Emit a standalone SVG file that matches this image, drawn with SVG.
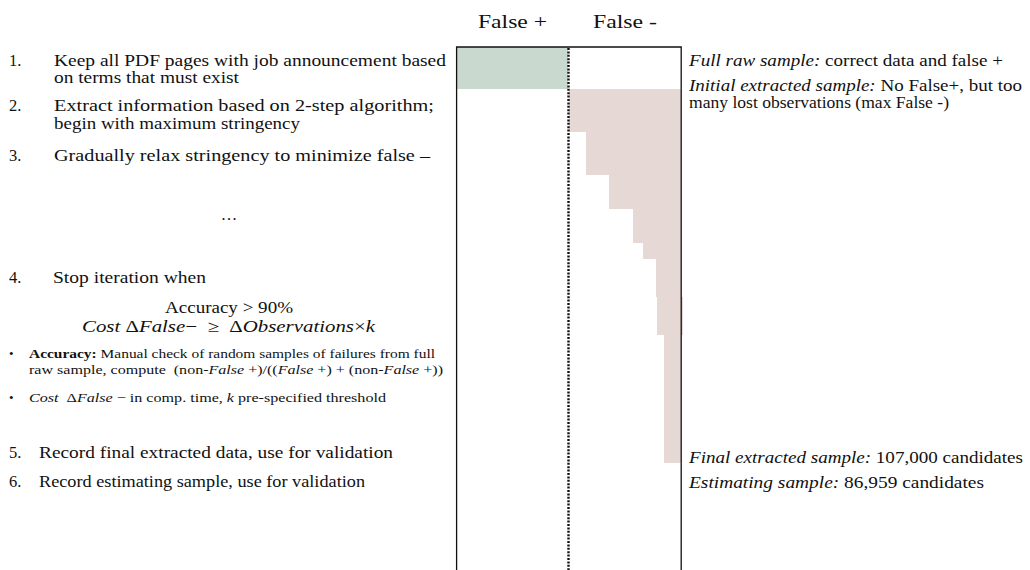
<svg xmlns="http://www.w3.org/2000/svg" width="1030" height="570" viewBox="0 0 1030 570">
<style>
text{font-family:"Liberation Serif","DejaVu Serif",serif;fill:#111;}
.m{font-size:16.5px;}
.s{font-size:13px;}
.h{font-size:18.5px;}
.i{font-style:italic;}
.b{font-weight:bold;}
.box{fill:none;stroke:#111;stroke-width:1.3;}
.dot{stroke:#111;stroke-width:2.4;stroke-dasharray:2 1.4;fill:none;}
</style>
<rect width="1030" height="570" fill="#fff"/>
<g id="header">
<text class="h" x="478" y="28" textLength="69" lengthAdjust="spacingAndGlyphs">False +</text>
<text class="h" x="593" y="28" textLength="64" lengthAdjust="spacingAndGlyphs">False -</text>
</g>
<g id="chart">
<rect id="falsepos" x="457" y="47" width="111" height="42" fill="#cad9cf"/>
<polygon id="falseneg" fill="#e6d8d4" points="569,89 681,89 681,297 683,297 683,335 681,335 681,463 664,463 664,335 657,335 657,297 656,297 656,259 643,259 643,243 633,243 633,209 609,209 609,175 586,175 586,132 569,132"/>
<path class="box" d="M456.6,570 V47 H681.2 V570"/>
<line class="dot" x1="568.5" y1="48" x2="568.5" y2="570"/>
</g>
<g id="steps">
<text class="m" x="9" y="66">1.</text>
<text class="m" x="54" y="66" textLength="392" lengthAdjust="spacingAndGlyphs">Keep all PDF pages with job announcement based</text>
<text class="m" x="54" y="83" textLength="185" lengthAdjust="spacingAndGlyphs">on terms that must exist</text>
<text class="m" x="9" y="111">2.</text>
<text class="m" x="54" y="111" textLength="380" lengthAdjust="spacingAndGlyphs">Extract information based on 2-step algorithm;</text>
<text class="m" x="54" y="129" textLength="246" lengthAdjust="spacingAndGlyphs">begin with maximum stringency</text>
<text class="m" x="9" y="161">3.</text>
<text class="m" x="54" y="161" textLength="376" lengthAdjust="spacingAndGlyphs">Gradually relax stringency to minimize false –</text>
<text class="m" x="229" y="220" text-anchor="middle">…</text>
<text class="m" x="9" y="283">4.</text>
<text class="m" x="53" y="283" textLength="153" lengthAdjust="spacingAndGlyphs">Stop iteration when</text>
<text class="m" x="165" y="313" textLength="128" lengthAdjust="spacingAndGlyphs">Accuracy &gt; 90%</text>
<text class="m" x="82" y="332" textLength="293" lengthAdjust="spacingAndGlyphs"><tspan class="i">Cost</tspan> Δ<tspan class="i">False</tspan>−&#160;&#160;≥&#160;&#160;Δ<tspan class="i">Observations</tspan>×<tspan class="i">k</tspan></text>
<text class="s" x="9" y="358">•</text>
<text class="s" x="29" y="358" textLength="406" lengthAdjust="spacingAndGlyphs"><tspan class="b">Accuracy:</tspan> Manual check of random samples of failures from full</text>
<text class="s" x="29" y="374" textLength="414" lengthAdjust="spacingAndGlyphs">raw sample, compute&#160; (non-<tspan class="i">False</tspan> +)/((<tspan class="i">False</tspan> +) + (non-<tspan class="i">False</tspan> +))</text>
<text class="s" x="9" y="402">•</text>
<text class="s" x="29" y="402" textLength="357" lengthAdjust="spacingAndGlyphs"><tspan class="i">Cost</tspan>&#160; Δ<tspan class="i">False</tspan> − in comp. time, <tspan class="i">k</tspan> pre-specified threshold</text>
<text class="m" x="9" y="458">5.</text>
<text class="m" x="39" y="458" textLength="354" lengthAdjust="spacingAndGlyphs">Record final extracted data, use for validation</text>
<text class="m" x="9" y="487">6.</text>
<text class="m" x="39" y="487" textLength="326" lengthAdjust="spacingAndGlyphs">Record estimating sample, use for validation</text>
</g>
<g id="annotations">
<text class="m" x="689" y="66" textLength="314" lengthAdjust="spacingAndGlyphs"><tspan class="i">Full raw sample:</tspan> correct data and false +</text>
<text class="m" x="689" y="91" textLength="333" lengthAdjust="spacingAndGlyphs"><tspan class="i">Initial extracted sample:</tspan> No False+, but too</text>
<text class="m" x="689" y="108" textLength="260" lengthAdjust="spacingAndGlyphs">many lost observations (max False -)</text>
<text class="m" x="689" y="463" textLength="334" lengthAdjust="spacingAndGlyphs"><tspan class="i">Final extracted sample:</tspan> 107,000 candidates</text>
<text class="m" x="689" y="488" textLength="295" lengthAdjust="spacingAndGlyphs"><tspan class="i">Estimating sample:</tspan> 86,959 candidates</text>
</g>
</svg>
